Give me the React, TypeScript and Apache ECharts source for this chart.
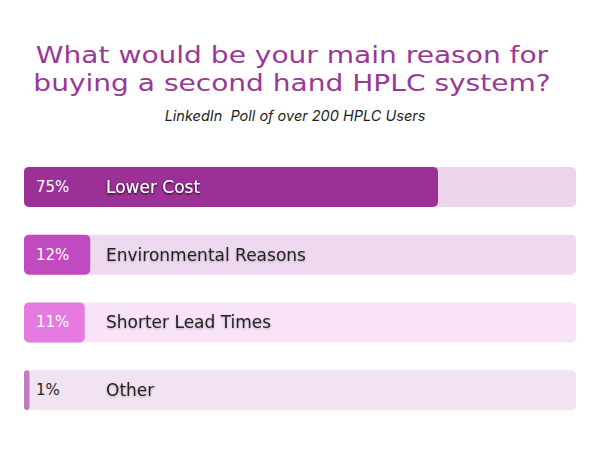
import React, { useEffect, useRef } from "react";
import * as echarts from "echarts";

const categories = ["Lower Cost", "Environmental Reasons", "Shorter Lead Times", "Other"];
const percents = [75, 12, 11, 1];
const fullScale = [100, 100, 100, 100];
const titleLines = ["What would be your main reason for", "buying a second hand HPLC system?"];
const subtitle = "LinkedIn  Poll of over 200 HPLC Users";

const barColors = ["#9b3196", "#c04bc0", "#e57ae0", "#c27cc0"];
const trackColors = ["#ead5ea", "#efd9f0", "#f8e3f8", "#f1e3f1"];
const pctColors = ["#ffffff", "#ffffff", "#ffffff", "#222222"];
const catColors = ["#ffffff", "#222222", "#222222", "#222222"];

export default function App() {
  const ref = useRef<HTMLDivElement>(null);
  useEffect(() => {
    if (!ref.current) return;
    const chart = echarts.init(ref.current, undefined, { renderer: "svg" });
    chart.setOption({
      animation: false,
      backgroundColor: "#ffffff",
      graphic: [
        ...titleLines.map((t, i) => ({
          type: "text",
          x: 292,
          y: 55 + i * 28,
          scaleX: 1.22,
          style: {
            text: t,
            fontFamily: "DejaVu Sans",
            fontSize: 23,
            fill: "#9a3898",
            textAlign: "center",
            textVerticalAlign: "middle",
          },
        })),
        {
          type: "text",
          x: 295,
          y: 115,
          style: {
            text: subtitle,
            fontFamily: "Inter",
            fontStyle: "italic",
            fontSize: 14.5,
            fill: "#1e1e1e",
            textAlign: "center",
            textVerticalAlign: "middle",
          },
        },
      ],
      grid: { left: 24, right: 24, top: 153, bottom: 26, containLabel: false },
      xAxis: { type: "value", min: 0, max: 100, show: false },
      yAxis: {
        type: "category",
        data: categories,
        inverse: true,
        show: false,
      },
      series: [
        {
          type: "bar",
          barWidth: 40,
          barGap: "-100%",
          silent: true,
          data: fullScale.map((v, i) => ({
            value: v,
            itemStyle: { color: trackColors[i], borderRadius: 5 },
          })),
          z: 1,
        },
        {
          type: "bar",
          barWidth: 40,
          barGap: "-100%",
          barMinWidth: 1,
          z: 2,
          data: percents.map((v, i) => ({
            value: v,
            itemStyle: { color: barColors[i], borderRadius: 5 },
            label: {
              show: true,
              position: "insideLeft",
              distance: 12,
              formatter: () => `{p|${v}%}{c|${categories[i]}}`,
              rich: {
                p: {
                  width: 70,
                  fontFamily: "DejaVu Sans",
                  fontSize: 15,
                  color: pctColors[i],
                },
                c: {
                  fontFamily: "DejaVu Sans",
                  fontSize: 17,
                  color: catColors[i],
                  textShadowColor: i === 0 ? "transparent" : "rgba(0,0,0,0.25)",
                  textShadowBlur: 2,
                  textShadowOffsetY: 1,
                },
              },
            },
          })),
        },
      ],
    });
    return () => chart.dispose();
  }, []);
  return <div ref={ref} style={{ width: 600, height: 450, margin: -8 }} />;
}
